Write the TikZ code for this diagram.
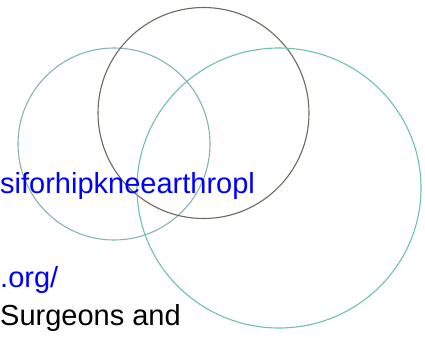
\documentclass[tikz,border=0pt]{standalone}
\usepackage{fontspec}
\setmainfont{Liberation Sans}
\definecolor{leftc}{HTML}{86B4B4}
\definecolor{midc}{HTML}{6A6A5E}
\definecolor{rightc}{HTML}{6CC2AA}
\definecolor{linkblue}{HTML}{0000FF}
\begin{document}
\begin{tikzpicture}[x=1pt,y=-1pt,
  ring/.style={line width=1.1pt},
  txt/.style={inner sep=0pt,anchor=base west,font=\fontsize{29}{34}\selectfont}]
\useasboundingbox (0,0) rectangle (425,337);
\draw[ring,leftc] (114,144) circle[radius=96];
\draw[ring,midc] (203.5,113) circle[radius=105.5];
\draw[ring,rightc] (279,188) circle[x radius=142,y radius=140];
\node[txt,text=linkblue] (t1) at (0,193) {siforhipkneearthropl};
\node[txt,text=linkblue] (t2) at (0,287) {.org/};
\node[txt,text=black] (t3) at (0,325) {Surgeons and};
\end{tikzpicture}
\end{document}
